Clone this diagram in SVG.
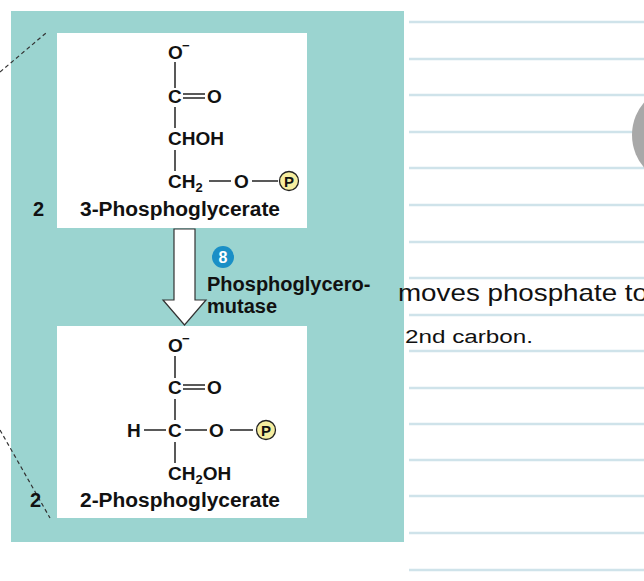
<svg xmlns="http://www.w3.org/2000/svg" width="644" height="581" viewBox="0 0 644 581">
<style>
.t{font-family:"Liberation Sans",Arial,sans-serif;font-weight:bold;fill:#111}
.c{font-size:19px}.l{font-size:20px}
.b{stroke:#222;stroke-width:1.5;fill:none}
.r{stroke:#cfe3ea;stroke-width:2.5}
.h{font-family:"Liberation Sans",sans-serif;fill:#111}
</style>
<rect width="644" height="581" fill="#fff"/>
<g id="ruled">
<line class="r" x1="409" y1="22" x2="644" y2="22"/><line class="r" x1="409" y1="59" x2="644" y2="59"/>
<line class="r" x1="409" y1="95" x2="644" y2="95"/><line class="r" x1="409" y1="132" x2="644" y2="132"/>
<line class="r" x1="409" y1="168" x2="644" y2="168"/><line class="r" x1="409" y1="205" x2="644" y2="205"/>
<line class="r" x1="409" y1="242" x2="644" y2="242"/><line class="r" x1="409" y1="278" x2="644" y2="278"/>
<line class="r" x1="409" y1="315" x2="644" y2="315"/><line class="r" x1="409" y1="351" x2="644" y2="351"/>
<line class="r" x1="409" y1="388" x2="644" y2="388"/><line class="r" x1="409" y1="424" x2="644" y2="424"/>
<line class="r" x1="409" y1="460" x2="644" y2="460"/><line class="r" x1="409" y1="496" x2="644" y2="496"/>
<line class="r" x1="409" y1="533" x2="644" y2="533"/><line class="r" x1="409" y1="570" x2="644" y2="570"/>
</g>
<circle cx="682" cy="135" r="50" fill="#a8a8a8"/>
<rect x="11" y="11" width="393" height="531" fill="#9bd4d0"/>
<g id="connectors">
<line x1="0" y1="72" x2="46" y2="33" stroke="#333" stroke-width="1.2" stroke-dasharray="4,3"/>
<line x1="0" y1="430" x2="50" y2="518" stroke="#333" stroke-width="1.2" stroke-dasharray="4,3"/>
<path d="M174,229 H195 V300 H206 L184.5,325 L163,300 H174 Z" fill="#fff" stroke="#333" stroke-width="1.2"/>
</g>
<g id="node-3pg">
<rect x="57" y="33" width="250" height="195" fill="#fff"/>
<text class="t c" x="168" y="59">O</text><text class="t" x="182" y="50" font-size="13">−</text>
<line class="b" x1="175" y1="62" x2="175" y2="88"/>
<text class="t c" x="168" y="103">C</text>
<line class="b" x1="183" y1="94" x2="205" y2="94"/><line class="b" x1="183" y1="98" x2="205" y2="98"/>
<text class="t c" x="207" y="103">O</text>
<line class="b" x1="175" y1="107" x2="175" y2="128"/>
<text class="t c" x="168" y="145">CHOH</text>
<line class="b" x1="175" y1="150" x2="175" y2="171"/>
<text class="t c" x="168" y="188">CH<tspan font-size="13" dy="4">2</tspan></text>
<line class="b" x1="209" y1="181" x2="231" y2="181"/>
<text class="t c" x="234" y="188">O</text>
<line class="b" x1="252" y1="181" x2="278" y2="181"/>
<circle cx="289" cy="181" r="9.5" fill="#f6eea0" stroke="#222" stroke-width="1.3"/>
<text class="t" x="289" y="186.5" font-size="15" text-anchor="middle">P</text>
<text class="t l" x="33" y="216">2</text>
<text class="t l" x="80" y="216" textLength="200" lengthAdjust="spacingAndGlyphs">3-Phosphoglycerate</text>
</g>
<g id="enzyme">
<circle cx="223" cy="257" r="11" fill="#1a8fc6"/>
<text class="t" x="223" y="263" font-size="16" style="fill:#fff" text-anchor="middle">8</text>
<text class="t l" x="207" y="291">Phosphoglycero-</text>
<text class="t l" x="207" y="313">mutase</text>
</g>
<g id="node-2pg">
<rect x="57" y="326" width="250" height="192" fill="#fff"/>
<text class="t c" x="168" y="352">O</text><text class="t" x="182" y="343" font-size="13">−</text>
<line class="b" x1="175" y1="356" x2="175" y2="378"/>
<text class="t c" x="168" y="394">C</text>
<line class="b" x1="183" y1="385" x2="205" y2="385"/><line class="b" x1="183" y1="389" x2="205" y2="389"/>
<text class="t c" x="207" y="394">O</text>
<line class="b" x1="175" y1="399" x2="175" y2="420"/>
<text class="t c" x="127" y="437">H</text>
<line class="b" x1="144" y1="430" x2="166" y2="430"/>
<text class="t c" x="168" y="437">C</text>
<line class="b" x1="185" y1="430" x2="207" y2="430"/>
<text class="t c" x="209" y="437">O</text>
<line class="b" x1="230" y1="430" x2="253" y2="430"/>
<circle cx="266" cy="430" r="9.5" fill="#f6eea0" stroke="#222" stroke-width="1.3"/>
<text class="t" x="266" y="435.5" font-size="15" text-anchor="middle">P</text>
<line class="b" x1="175" y1="442" x2="175" y2="463"/>
<text class="t c" x="168" y="480">CH<tspan font-size="13" dy="4">2</tspan><tspan dy="-4">OH</tspan></text>
<text class="t l" x="30" y="507">2</text>
<text class="t l" x="80" y="507" textLength="200" lengthAdjust="spacingAndGlyphs">2-Phosphoglycerate</text>
</g>
<g id="notes">
<text class="h" x="398" y="301" font-size="24" textLength="250" lengthAdjust="spacingAndGlyphs">moves phosphate to</text>
<text class="h" x="405" y="343" font-size="18" textLength="128" lengthAdjust="spacingAndGlyphs">2nd carbon.</text>
</g>
</svg>
